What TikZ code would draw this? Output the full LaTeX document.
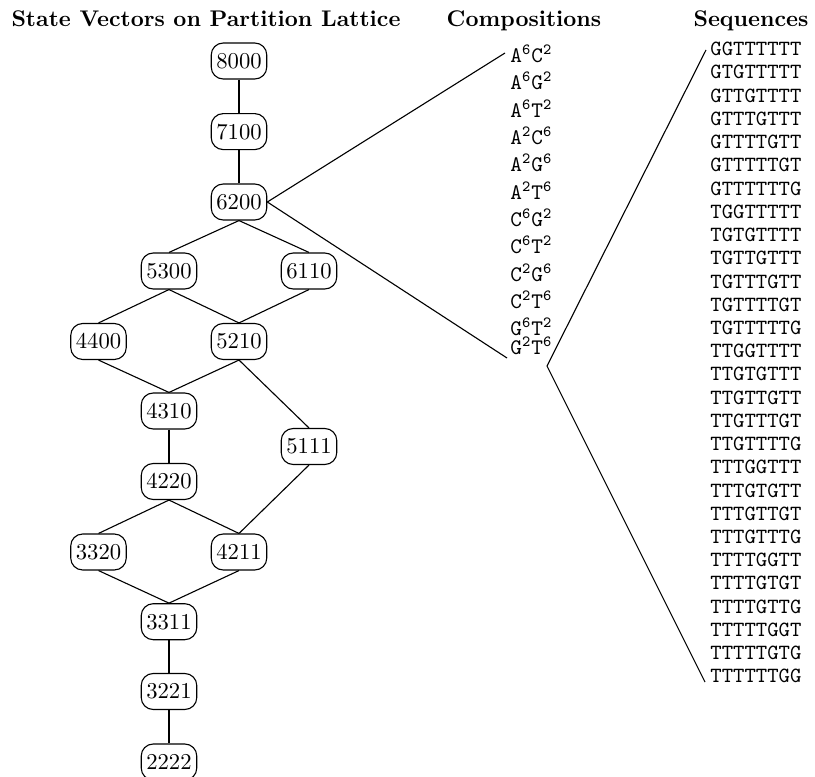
\documentclass[tikz,border=0pt]{standalone}
\begin{document}
\begin{tikzpicture}[x=0.45pt,y=-0.45pt,
  vec/.style={draw,line width=0.5pt,rounded corners=5.4pt,inner xsep=2.3pt,inner ysep=0pt,minimum height=16.2pt,font=\fontsize{10.2}{12}\selectfont},
  ttl/.style={anchor=base,font=\fontsize{10.2}{12}\selectfont\bfseries},
  comp/.style={anchor=base west,inner sep=0pt,font=\fontsize{9.75}{11}\selectfont\ttfamily},
  seq/.style={anchor=base west,inner sep=0pt,font=\fontsize{9.75}{11}\selectfont\ttfamily},
  edge/.style={line width=0.5pt}]
\useasboundingbox (0,0) rectangle (815,777);
% titles
\node[ttl] (t1) at (206,27) {State Vectors on Partition Lattice};
\node[ttl] (t2) at (524,27) {Compositions};
\node[ttl] (t3) at (751,27) {Sequences};
% lattice
\node[vec] (n8000) at (239,61) {8000};
\node[vec] (n7100) at (239,131.6) {7100};
\node[vec] (n6200) at (239,202) {6200};
\node[vec] (n5300) at (169,271) {5300};
\node[vec] (n6110) at (309,271) {6110};
\node[vec] (n4400) at (98.5,341.5) {4400};
\node[vec] (n5210) at (239,341.5) {5210};
\node[vec] (n4310) at (169,411) {4310};
\node[vec] (n5111) at (309,446.5) {5111};
\node[vec] (n4220) at (169,481.5) {4220};
\node[vec] (n3320) at (98.5,552) {3320};
\node[vec] (n4211) at (239,552) {4211};
\node[vec] (n3311) at (169,621.7) {3311};
\node[vec] (n3221) at (169,691.5) {3221};
\node[vec] (n2222) at (169,762) {2222};
\draw[edge] (n8000.south) -- (n7100.north);
\draw[edge] (n7100.south) -- (n6200.north);
\draw[edge] (n6200.south) -- (n5300.north);
\draw[edge] (n6200.south) -- (n6110.north);
\draw[edge] (n5300.south) -- (n4400.north);
\draw[edge] (n5300.south) -- (n5210.north);
\draw[edge] (n6110.south) -- (n5210.north);
\draw[edge] (n4400.south) -- (n4310.north);
\draw[edge] (n5210.south) -- (n4310.north);
\draw[edge] (n5210.south) -- (n5111.north);
\draw[edge] (n4310.south) -- (n4220.north);
\draw[edge] (n4220.south) -- (n3320.north);
\draw[edge] (n4220.south) -- (n4211.north);
\draw[edge] (n5111.south) -- (n4211.north);
\draw[edge] (n3320.south) -- (n3311.north);
\draw[edge] (n4211.south) -- (n3311.north);
\draw[edge] (n3311.south) -- (n3221.north);
\draw[edge] (n3221.south) -- (n2222.north);
% compositions
\node[comp] (c1) at (510,62.7) {$\mathtt{A^6C^2}$};
\node[comp] (c2) at (510,90.0) {$\mathtt{A^6G^2}$};
\node[comp] (c3) at (510,117.4) {$\mathtt{A^6T^2}$};
\node[comp] (c4) at (510,144.7) {$\mathtt{A^2C^6}$};
\node[comp] (c5) at (510,172.0) {$\mathtt{A^2G^6}$};
\node[comp] (c6) at (510,199.4) {$\mathtt{A^2T^6}$};
\node[comp] (c7) at (510,226.7) {$\mathtt{C^6G^2}$};
\node[comp] (c8) at (510,254.0) {$\mathtt{C^6T^2}$};
\node[comp] (c9) at (510,281.3) {$\mathtt{C^2G^6}$};
\node[comp] (c10) at (510,308.7) {$\mathtt{C^2T^6}$};
\node[comp] (c11) at (510,336.0) {$\mathtt{G^6T^2}$};
\node[comp] (c12) at (510,354.5) {$\mathtt{G^2T^6}$};
\coordinate (ctop) at (505,53);
\coordinate (cbot) at (507,358);
\coordinate (apex) at (547,366);
\draw[edge] (ctop) -- (n6200.east) -- (cbot);
% sequences
\foreach \s [count=\i from 0] in {GGTTTTTT,GTGTTTTT,GTTGTTTT,GTTTGTTT,GTTTTGTT,GTTTTTGT,GTTTTTTG,TGGTTTTT,TGTGTTTT,TGTTGTTT,TGTTTGTT,TGTTTTGT,TGTTTTTG,TTGGTTTT,TTGTGTTT,TTGTTGTT,TTGTTTGT,TTGTTTTG,TTTGGTTT,TTTGTGTT,TTTGTTGT,TTTGTTTG,TTTTGGTT,TTTTGTGT,TTTTGTTG,TTTTTGGT,TTTTTGTG,TTTTTTGG}
  \node[seq] (s\i) at (710,55.7+23.23*\i) {\s};
\coordinate (stop) at (706,50);
\coordinate (sbot) at (705,682);
\draw[edge] (stop) -- (apex) -- (sbot);
\end{tikzpicture}
\end{document}
